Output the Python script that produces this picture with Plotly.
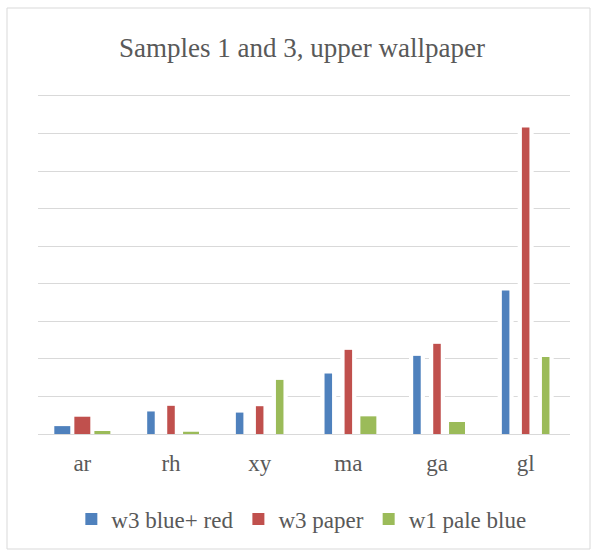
import plotly.graph_objects as go

categories = ["ar", "rh", "xy", "ma", "ga", "gl"]
w3_blue_red = [0.21, 0.60, 0.57, 1.61, 2.08, 3.82]
w3_paper = [0.46, 0.75, 0.74, 2.24, 2.40, 8.16]
w1_pale_blue = [0.08, 0.06, 1.44, 0.47, 0.32, 2.05]

series = [
    ("w3 blue+ red", w3_blue_red, "#4F81BD", -0.226),
    ("w3 paper", w3_paper, "#C0504D", 0.0),
    ("w1 pale blue", w1_pale_blue, "#9BBB59", 0.226),
]

FONT = "Liberation Serif"
W, H = 595, 552
L, R, T, B = 38, 25, 94, 118
pw, ph = W - L - R, H - T - B

fig = go.Figure()
full_w = 0.18
narrow_w = 0.085
# white backing bars (hide gridlines around bars)
for name, vals, color, shift in series:
    fig.add_trace(go.Bar(
        x=categories, y=vals, width=[full_w] * len(vals),
        offset=[shift - full_w / 2] * len(vals),
        marker=dict(color="white", line=dict(width=0)),
        showlegend=False, hoverinfo="skip",
    ))
for name, vals, color, shift in series:
    widths = [full_w if v < 0.5 else narrow_w for v in vals]
    fig.add_trace(go.Bar(
        name=name, x=categories, y=vals, width=widths,
        offset=[shift - w / 2 for w in widths],
        marker=dict(color=color, line=dict(width=0)),
    ))

fig.update_layout(
    width=W, height=H,
    barmode="overlay",
    margin=dict(l=L, r=R, t=T, b=B),
    paper_bgcolor="white", plot_bgcolor="white",
    font=dict(family=FONT, color="#595959"),
    title=dict(text="Samples 1 and 3, upper wallpaper", x=(302) / W, xanchor="center",
               y=1 - 48 / H, yanchor="middle",
               font=dict(family=FONT, size=27, color="#595959")),
    xaxis=dict(showgrid=False, showline=True, linecolor="#D9D9D9", linewidth=1,
               ticks="outside", ticklen=8, tickcolor="rgba(0,0,0,0)",
               tickfont=dict(family=FONT, size=23, color="#595959")),
    yaxis=dict(range=[0, 9.05], tickvals=list(range(1, 10)), showgrid=True,
               gridcolor="#D9D9D9", gridwidth=1,
               showticklabels=False, zeroline=False, showline=False, fixedrange=True),
    legend=dict(orientation="h", x=0.495, xanchor="center", y=(434 - 519) / ph, yanchor="middle",
                font=dict(family=FONT, size=23, color="#595959"), itemwidth=30,
                traceorder="normal"),
    showlegend=True,
)

fig.add_shape(type="rect", xref="paper", yref="paper",
              x0=(7 - L) / pw, x1=(590 - L) / pw,
              y0=(T + ph - 549) / ph, y1=(T + ph - 8) / ph,
              line=dict(color="#D9D9D9", width=1), fillcolor="rgba(0,0,0,0)", layer="below")

fig.write_html("out.html")
